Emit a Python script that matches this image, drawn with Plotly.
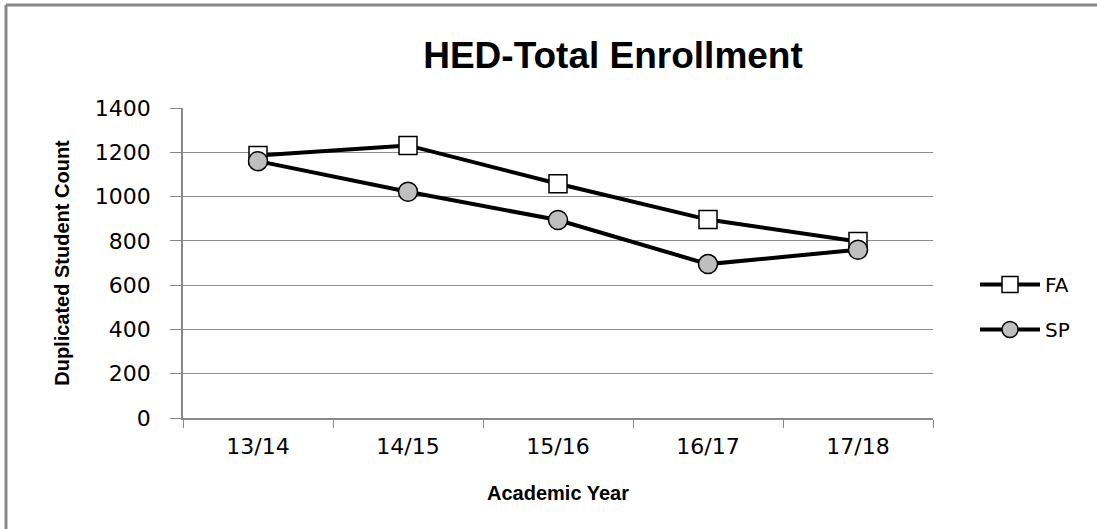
import plotly.graph_objects as go

years = ["13/14", "14/15", "15/16", "16/17", "17/18"]
fa_counts = [1185, 1231, 1058, 896, 797]
sp_counts = [1160, 1022, 894, 695, 760]

W, H = 1097, 529
L, R, T, B = 183, 164, 108, 111
pw, ph = W - L - R, H - T - B

font_main = "Liberation Sans, Arial, sans-serif"
font_ticks = "DejaVu Sans, sans-serif"

fig = go.Figure()
fig.add_trace(go.Scatter(
    x=years, y=fa_counts, name="FA", legendgroup="fa", mode="lines+markers",
    line=dict(color="black", width=4),
    marker=dict(symbol="square", size=18, color="white",
                line=dict(color="black", width=1.5)),
))
fig.add_trace(go.Scatter(
    x=years, y=sp_counts, name="SP", legendgroup="sp", mode="lines+markers",
    line=dict(color="black", width=4),
    marker=dict(symbol="circle", size=19, color="#BFBFBF",
                line=dict(color="black", width=1.5)),
))

# outer chart frame: top and left edges
frame_left = (6 - L) / pw
frame_top = (H - 5 - B) / ph
frame = dict(color="#888888", width=3)
fig.add_shape(type="line", xref="paper", yref="paper",
              x0=frame_left, x1=(W - L) / pw + 0.1, y0=frame_top, y1=frame_top,
              line=frame, layer="below")
fig.add_shape(type="line", xref="paper", yref="paper",
              x0=frame_left, x1=frame_left, y0=-B / ph - 0.1, y1=frame_top,
              line=frame, layer="below")

fig.update_layout(
    width=W, height=H,
    margin=dict(l=L, r=R, t=T, b=B),
    paper_bgcolor="white", plot_bgcolor="white",
    font=dict(family=font_main, color="black", size=20),
    title=dict(text="<b>HED-Total Enrollment</b>", x=613 / W, xref="container",
               xanchor="center", y=1 - 55 / H, yanchor="middle",
               font=dict(size=37, family=font_main)),
    showlegend=True,
    legend=dict(x=(975 - L) / pw, xanchor="left", y=(418 - 307) / ph,
                yanchor="middle", font=dict(size=20, family=font_ticks),
                itemwidth=60, tracegroupgap=16, bgcolor="rgba(0,0,0,0)"),
    xaxis=dict(
        type="category", range=[-0.5, 4.5],
        showline=True, linecolor="#888888", linewidth=1.5,
        ticks="outside", tickson="boundaries", ticklen=8, tickcolor="#888888",
        showgrid=False, tickfont=dict(size=22, family=font_ticks),
        ticklabelstandoff=8,
        title=dict(text="<b>Academic Year</b>", font=dict(size=20), standoff=28),
    ),
    yaxis=dict(
        range=[0, 1400], dtick=200,
        showline=True, linecolor="#888888", linewidth=1.5,
        ticks="outside", ticklen=11, tickcolor="#888888",
        showgrid=True, gridcolor="#8C8C8C", gridwidth=1,
        zeroline=False, tickfont=dict(size=22, family=font_ticks),
        ticklabelstandoff=15,
        title=dict(text="<b>Duplicated Student Count</b>", font=dict(size=20),
                   standoff=20),
    ),
)

fig.write_html("out.html",
               post_script="document.body.style.margin='0';"
                           "document.body.style.overflow='hidden';")
